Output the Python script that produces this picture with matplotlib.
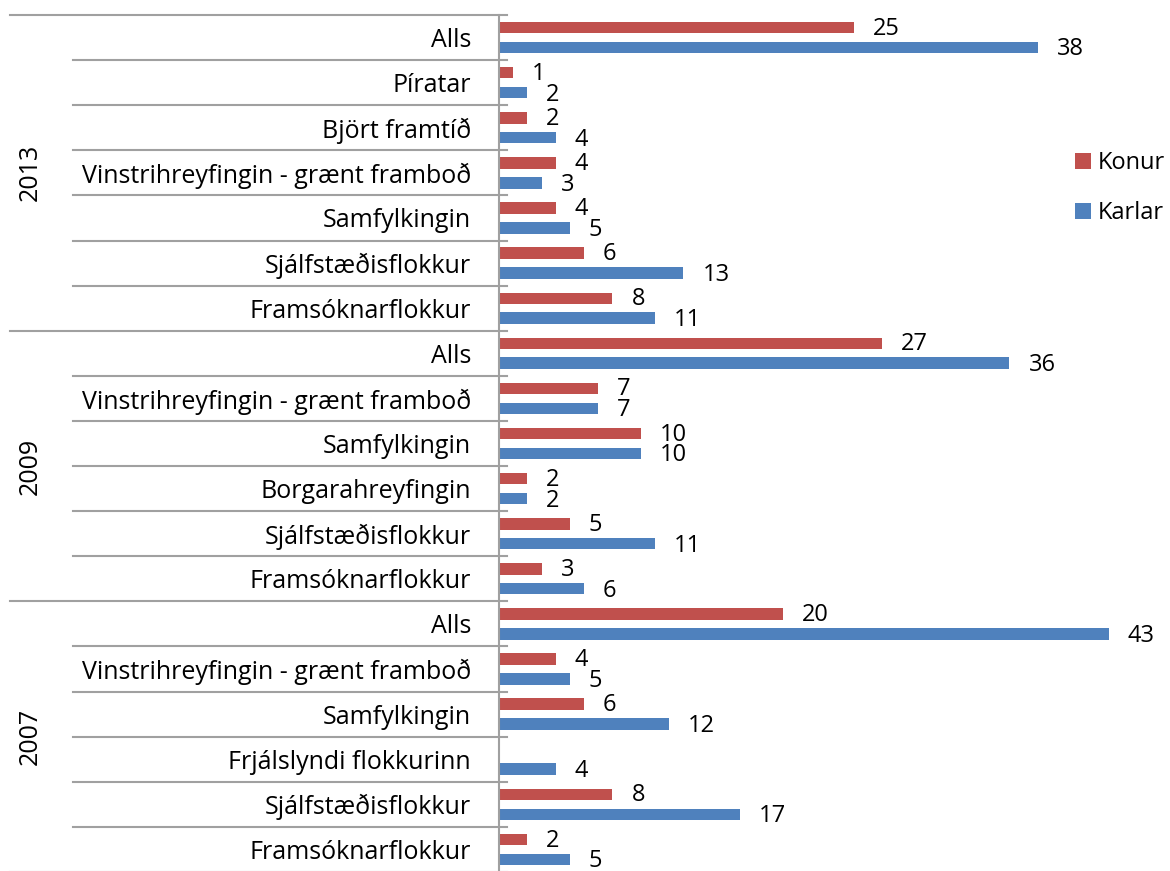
import numpy as np
import matplotlib.pyplot as plt
from matplotlib.transforms import blended_transform_factory, offset_copy

plt.rcParams['font.family'] = ['Open Sans', 'DejaVu Sans']

years = ['2013', '2009', '2007']
parties_2013 = ['Alls', 'Píratar', 'Björt framtíð', 'Vinstrihreyfingin - grænt framboð',
                'Samfylkingin', 'Sjálfstæðisflokkur', 'Framsóknarflokkur']
parties_2009 = ['Alls', 'Vinstrihreyfingin - grænt framboð', 'Samfylkingin',
                'Borgarahreyfingin', 'Sjálfstæðisflokkur', 'Framsóknarflokkur']
parties_2007 = ['Alls', 'Vinstrihreyfingin - grænt framboð', 'Samfylkingin',
                'Frjálslyndi flokkurinn', 'Sjálfstæðisflokkur', 'Framsóknarflokkur']
konur_2013 = [25, 1, 2, 4, 4, 6, 8]
karlar_2013 = [38, 2, 4, 3, 5, 13, 11]
konur_2009 = [27, 7, 10, 2, 5, 3]
karlar_2009 = [36, 7, 10, 2, 11, 6]
konur_2007 = [20, 4, 6, None, 8, 2]
karlar_2007 = [43, 5, 12, 4, 17, 5]

groups = [parties_2013, parties_2009, parties_2007]
labels = parties_2013 + parties_2009 + parties_2007
konur = konur_2013 + konur_2009 + konur_2007
karlar = karlar_2013 + karlar_2009 + karlar_2007

RED = '#C0504D'
BLUE = '#4F81BD'
GRID = '#A0A0A0'
FS = 18

W, H = 1170, 871
fig = plt.figure(figsize=(W / 100, H / 100), dpi=100)
x0 = 499
ppu = 14.18  # pixels per unit
top_px, bot_px = 15, 872
ax = fig.add_axes([x0 / W, (H - bot_px) / H, (W - x0) / W, (bot_px - top_px) / H])
ax.set_xlim(0, (W - x0) / ppu)
n = len(labels)
ax.set_ylim(n - 0.5, -0.5)
for s in ax.spines.values():
    s.set_visible(False)
ax.set_xticks([])
ax.set_yticks([])

y = np.arange(n)
bh = 0.255
off = 0.22
kv = np.array([np.nan if v is None else v for v in konur], dtype=float)
ax.barh(y - off, np.nan_to_num(kv), height=bh, color=RED, label='Konur')
ax.barh(y + off, karlar, height=bh, color=BLUE, label='Karlar')

for i in range(n):
    if not np.isnan(kv[i]):
        ax.annotate(f'{int(kv[i])}', (kv[i], y[i] - off), xytext=(19, -1),
                    textcoords='offset pixels', va='center', ha='left', fontsize=17)
    ax.annotate(f'{karlar[i]}', (karlar[i], y[i] + off), xytext=(19, -2),
                textcoords='offset pixels', va='center', ha='left', fontsize=17)

# category axis on the left, drawn in figure pixels
tr = blended_transform_factory(fig.transFigure, ax.transData)
tr_txt = offset_copy(tr, fig=fig, x=0, y=-3, units='dots')
for i, lab in enumerate(labels):
    fig.text(471 / W, i, lab, transform=tr_txt, ha='right', va='center', fontsize=FS)

start = 0
bounds = []
for g, yr in zip(groups, years):
    mid = start + (len(g) - 1) / 2
    fig.text(30 / W, mid, yr, transform=tr, ha='center', va='center',
             rotation=90, fontsize=FS)
    bounds.append(start - 0.5)
    for k in range(1, len(g)):
        ax.plot([73 / W, 507 / W], [start + k - 0.5] * 2, transform=tr,
                color=GRID, lw=1.5, clip_on=False)
    start += len(g)
bounds.append(start - 0.5)
for b in bounds:
    ax.plot([10 / W, 507 / W], [b, b], transform=tr, color=GRID, lw=1.5, clip_on=False)
ax.plot([x0 / W, x0 / W], [-0.5, n - 0.5], transform=tr, color=GRID, lw=1.5, clip_on=False)

ax.legend(loc='upper left', bbox_to_anchor=(1066 / W, 1 - 142 / H),
          bbox_transform=fig.transFigure, frameon=False, fontsize=17,
          handlelength=0.66, handleheight=0.66, handletextpad=0.3, labelspacing=1.1,
          borderaxespad=0)

fig.savefig('out.png', dpi=100)
